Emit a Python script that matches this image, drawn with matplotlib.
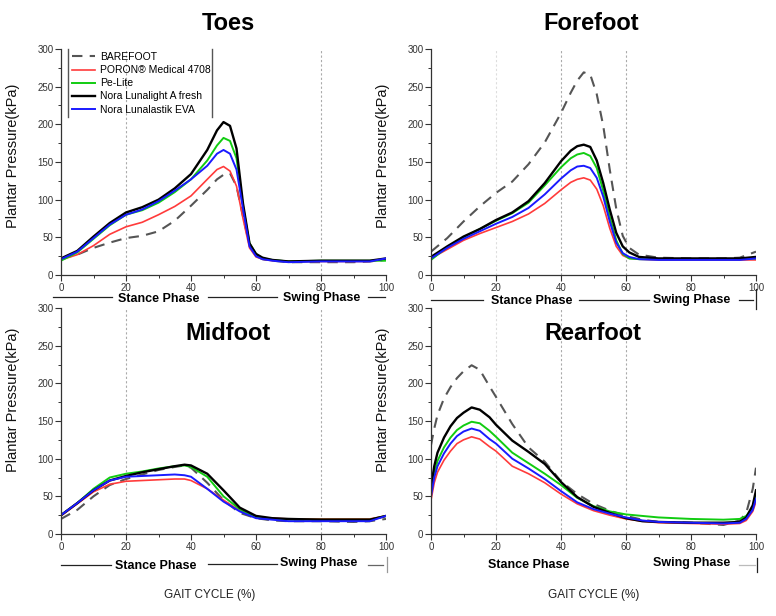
import matplotlib
matplotlib.use("Agg")
import matplotlib.pyplot as plt
from matplotlib.lines import Line2D

plt.rcParams['font.family'] = ['Liberation Sans', 'DejaVu Sans']

# ---- data ----
series_names = ['BAREFOOT', 'PORON\u00ae Medical 4708', 'Pe-Lite',
                'Nora Lunalight A fresh', 'Nora Lunalastik EVA']

toes_x = [0, 5, 10, 15, 20, 25, 30, 35, 40, 45, 48, 50, 52, 54, 56, 58, 60, 62, 65, 70, 80, 90, 95, 100]
toes_barefoot = [22, 27, 36, 43, 49, 52, 58, 72, 92, 113, 127, 133, 135, 118, 78, 40, 26, 21, 19, 17, 17, 17, 18, 20]
toes_poron = [20, 27, 39, 54, 64, 70, 80, 91, 105, 127, 140, 144, 138, 118, 75, 36, 24, 21, 19, 18, 18, 18, 18, 21]
toes_pelite = [19, 30, 48, 66, 80, 86, 96, 110, 127, 152, 172, 182, 178, 155, 92, 42, 28, 22, 20, 18, 19, 19, 19, 19]
toes_lunalight = [22, 32, 51, 69, 83, 90, 100, 115, 134, 166, 192, 203, 198, 168, 95, 42, 28, 23, 20, 18, 19, 19, 19, 22]
toes_lunalastik = [21, 31, 49, 67, 80, 87, 98, 112, 127, 145, 161, 166, 161, 140, 88, 38, 25, 21, 19, 17, 18, 18, 18, 22]

fore_x = [0, 5, 10, 15, 20, 25, 30, 35, 40, 43, 45, 47, 49, 51, 53, 55, 57, 59, 61, 64, 70, 80, 90, 95, 100]
fore_barefoot = [31, 49, 71, 91, 109, 124, 147, 176, 215, 242, 258, 269, 266, 240, 198, 140, 88, 52, 36, 27, 23, 22, 22, 23, 31]
fore_poron = [22, 34, 46, 55, 63, 71, 81, 95, 113, 123, 127, 129, 126, 114, 92, 62, 38, 26, 22, 21, 20, 20, 20, 20, 20]
fore_pelite = [20, 37, 50, 61, 72, 82, 96, 119, 143, 155, 160, 162, 158, 142, 112, 77, 46, 28, 22, 21, 21, 21, 21, 21, 22]
fore_lunalight = [24, 38, 51, 61, 73, 83, 98, 122, 151, 165, 171, 173, 170, 152, 122, 87, 56, 38, 30, 24, 22, 22, 22, 22, 24]
fore_lunalastik = [22, 36, 48, 58, 68, 77, 89, 107, 128, 139, 144, 145, 142, 129, 104, 71, 43, 29, 24, 21, 20, 20, 20, 20, 22]

mid_x = [0, 5, 10, 15, 20, 25, 30, 35, 38, 40, 45, 50, 55, 60, 65, 70, 80, 90, 95, 100]
mid_barefoot = [20, 32, 50, 65, 73, 79, 85, 89, 91, 88, 68, 45, 28, 21, 18, 17, 17, 16, 17, 20]
mid_poron = [24, 40, 56, 66, 70, 71, 72, 73, 73, 71, 60, 45, 31, 22, 21, 20, 20, 20, 20, 24]
mid_pelite = [25, 41, 60, 75, 80, 83, 87, 90, 91, 89, 76, 50, 33, 22, 20, 19, 19, 19, 19, 24]
mid_lunalight = [25, 41, 58, 71, 77, 82, 86, 90, 92, 91, 80, 58, 35, 24, 21, 20, 19, 19, 19, 24]
mid_lunalastik = [25, 41, 58, 71, 76, 77, 78, 79, 78, 76, 60, 43, 30, 21, 19, 17, 17, 17, 17, 24]

rear_x = [0, 1, 2, 4, 6, 8, 10, 12.5, 15, 18, 20, 25, 30, 35, 40, 45, 50, 55, 60, 65, 70, 80, 90, 95, 97, 99, 100]
rear_barefoot = [118, 140, 158, 180, 195, 207, 216, 224, 218, 196, 182, 146, 115, 96, 70, 53, 40, 31, 24, 19, 16, 15, 12, 18, 28, 60, 88]
rear_poron = [45, 68, 82, 98, 110, 120, 125, 129, 126, 116, 110, 90, 80, 68, 53, 40, 31, 25, 20, 17, 15, 14, 13, 14, 18, 30, 43]
rear_pelite = [55, 80, 97, 115, 128, 138, 144, 149, 147, 137, 129, 108, 94, 80, 65, 48, 37, 30, 26, 24, 22, 20, 19, 20, 24, 35, 50]
rear_lunalight = [62, 90, 108, 128, 143, 154, 161, 168, 165, 155, 145, 124, 109, 93, 69, 49, 36, 28, 21, 17, 16, 15, 15, 16, 22, 38, 58]
rear_lunalastik = [50, 75, 90, 107, 120, 130, 136, 140, 137, 126, 120, 100, 87, 73, 57, 42, 33, 27, 22, 18, 16, 15, 14, 15, 20, 32, 47]

# ---- figure ----
W, H = 776, 616
fig = plt.figure(figsize=(W / 100, H / 100), dpi=100)


def fx(x):
    return x / W


def fy(y):
    return 1 - y / H


def hline(x0, x1, y, color='#222222', lw=0.9):
    fig.add_artist(Line2D([fx(x0), fx(x1)], [fy(y), fy(y)], color=color, lw=lw))


def vline(x, y0, y1, color='#222222', lw=0.9):
    fig.add_artist(Line2D([fx(x), fx(x)], [fy(y0), fy(y1)], color=color, lw=lw))


styles = [
    dict(color='#555555', lw=1.5, dashes=(5, 3.5)),
    dict(color='#ff3b3b', lw=1.2),
    dict(color='#11cc11', lw=1.4),
    dict(color='black', lw=1.7),
    dict(color='#1a1aff', lw=1.4),
]

panels = [
    ('Toes', toes_x, [toes_barefoot, toes_poron, toes_pelite, toes_lunalight, toes_lunalastik],
     (61, 275), [20, 80], 0.529),
    ('Forefoot', fore_x, [fore_barefoot, fore_poron, fore_pelite, fore_lunalight, fore_lunalastik],
     (431, 275), [20, 40, 60], 0.529),
    ('Midfoot', mid_x, [mid_barefoot, mid_poron, mid_pelite, mid_lunalight, mid_lunalastik],
     (61, 534), [20, 80], 0.593),
    ('Rearfoot', rear_x, [rear_barefoot, rear_poron, rear_pelite, rear_lunalight, rear_lunalastik],
     (431, 534), [20, 40, 60], 0.593),
]

axes = []
for title, xs, ys, (x0, y0), grid_x, ylab_y in panels:
    ax = fig.add_axes([fx(x0), fy(y0), 325 / W, 226 / H])
    axes.append(ax)
    for gx in grid_x:
        c = '#dddddd' if (gx == 20 and x0 > 400) else '#aaaaaa'
        ax.axvline(gx, color=c, lw=0.8, ls=(0, (2, 2)), zorder=0)
    for name, y, st in zip(series_names, ys, styles):
        ax.plot(xs, y, label=name, **st)
    ax.set_xlim(0, 100)
    ax.set_ylim(0, 300)
    ax.set_xticks(range(0, 101, 20))
    ax.set_xticks(range(0, 101, 10), minor=True)
    ax.set_yticks(range(0, 301, 50))
    ax.set_yticks(range(0, 301, 25), minor=True)
    for s in ['top', 'right']:
        ax.spines[s].set_visible(False)
    for s in ['left', 'bottom']:
        ax.spines[s].set_color('#333333')
        ax.spines[s].set_linewidth(0.9)
    ax.tick_params(which='major', length=4, width=0.8, color='#333333',
                   labelsize=7, labelcolor='#333333', pad=1.5)
    ax.tick_params(which='minor', length=2.5, width=0.7, color='#333333')
    ax.set_ylabel('Plantar Pressure(kPa)', fontsize=10.5, color='#111111')
    ax.yaxis.set_label_coords(-0.127, ylab_y)
    ax.patch.set_alpha(0)

# titles
tt = dict(ha='center', va='center', fontsize=17, fontweight='bold')
fig.text(fx(228), fy(24), 'Toes', **tt)
fig.text(fx(591), fy(24), 'Forefoot', **tt)
fig.text(fx(228), fy(333), 'Midfoot', **tt)
fig.text(fx(593), fy(333), 'Rearfoot', **tt)

# legend (only side rules, like the original)
ax0 = axes[0]
ax0.legend(loc='upper left', bbox_to_anchor=(0.022, 1.005), frameon=False, fontsize=7.5,
           handlelength=2.2, handletextpad=0.45, labelspacing=0.3, borderaxespad=0)
ax0.plot([0.022, 0.022], [0.70, 1.0], transform=ax0.transAxes, color='#555555', lw=1, clip_on=False)
ax0.plot([0.465, 0.465], [0.70, 1.0], transform=ax0.transAxes, color='#555555', lw=1, clip_on=False)

# phase markers
ph = dict(ha='center', va='center', fontsize=9, fontweight='bold')
# top left
hline(53, 112, 297)
fig.text(fx(159), fy(299), 'Stance Phase', **ph)
hline(208, 277, 297)
fig.text(fx(322), fy(298), 'Swing Phase', **ph)
hline(368, 385, 297)
# top right
hline(431, 483, 300)
fig.text(fx(532), fy(301), 'Stance Phase', **ph)
hline(579, 649, 300)
fig.text(fx(692), fy(300), 'Swing Phase', **ph)
hline(739, 753, 300)
vline(756, 289, 309)
# bottom left
hline(61, 111, 565)
fig.text(fx(156), fy(566), 'Stance Phase', **ph)
hline(208, 277, 564)
fig.text(fx(319), fy(563), 'Swing Phase', **ph)
hline(368, 383, 565, color='#666666')
vline(387, 557, 572, color='#999999')
# bottom right
fig.text(fx(529), fy(565), 'Stance Phase', **ph)
fig.text(fx(692), fy(563), 'Swing Phase', **ph)
hline(739, 755, 565, color='#bbbbbb')
vline(757, 558, 572)

# x-axis titles
fig.text(fx(210), fy(595), 'GAIT CYCLE (%)', ha='center', va='center', fontsize=8.5, color='#222222')
fig.text(fx(594), fy(595), 'GAIT CYCLE (%)', ha='center', va='center', fontsize=8.5, color='#222222')

fig.savefig('out.png', dpi=100, facecolor='white')
